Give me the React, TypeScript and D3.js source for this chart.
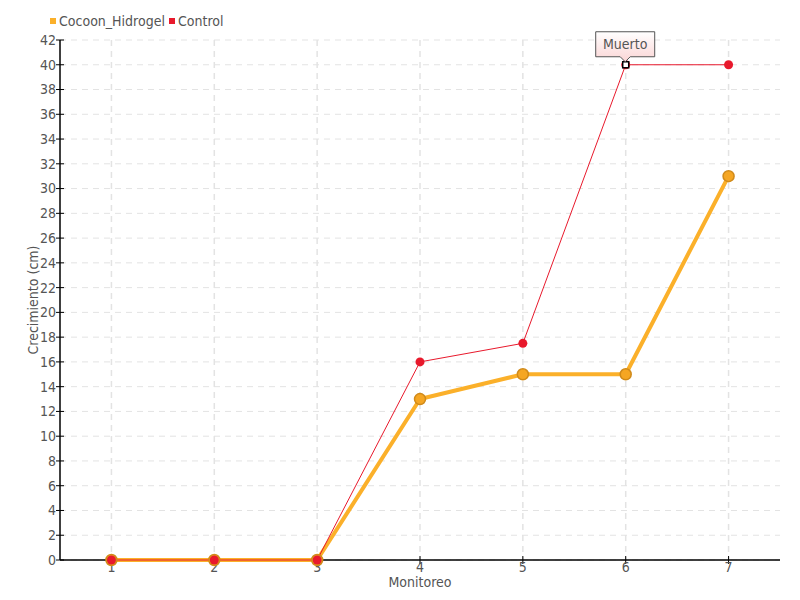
import React from "react";
import * as d3 from "d3";

const categories = ["1", "2", "3", "4", "5", "6", "7"];
const cocoonValues = [0, 0, 0, 13, 15, 15, 31];
const controlValues = [0, 0, 0, 16, 17.5, 40, 40];
const yTicks = d3.range(0, 43, 2);
const seriesNames = ["Cocoon_Hidrogel", "Control"];
const annotationLabel = "Muerto";
const annotationIndex = 5;

const W = 800, H = 600;
const left = 60, right = 780, top = 40, bottom = 560;
const FONT = "'DejaVu Sans Condensed', 'Liberation Sans Narrow', sans-serif";
const cocoonColor = "#fbb02a";
const cocoonStroke = "#d08a1a";
const controlColor = "#e8192c";

export default function App() {
  const x = d3.scaleBand<string>().domain(categories).range([left, right]);
  const cx = (c: string) => (x(c) as number) + x.bandwidth() / 2;
  const y = d3.scaleLinear().domain([0, 42]).range([bottom, top]);
  const line = d3.line<number>().x((_, i) => cx(categories[i])).y((v) => y(v));

  const ax = cx(categories[annotationIndex]);
  const ay = y(controlValues[annotationIndex]);
  const bw = 59, bh = 25;
  const bx = ax - 30, by = ay - 33;

  return (
    <svg width={W} height={H} style={{ position: "absolute", left: 0, top: 0 }} fontFamily={FONT}>
      <defs>
        <linearGradient id="tipGrad" x1="0" y1="0" x2="0" y2="1">
          <stop offset="0" stopColor="#ffffff" />
          <stop offset="1" stopColor="#fbd5d5" />
        </linearGradient>
      </defs>
      <rect width={W} height={H} fill="#fff" />
      {/* grid */}
      {yTicks.map((t) => (
        <line key={"gy" + t} x1={left} x2={right} y1={y(t)} y2={y(t)} stroke="#e3e3e3" strokeDasharray="6,5" strokeWidth={1} />
      ))}
      {categories.map((c) => (
        <line key={"gx" + c} x1={cx(c)} x2={cx(c)} y1={top} y2={bottom} stroke="#e3e3e3" strokeDasharray="6,5" strokeWidth={1.5} />
      ))}
      {/* axes */}
      <line x1={left} x2={left} y1={top} y2={bottom} stroke="#000" strokeWidth={1.5} />
      <line x1={left} x2={right} y1={bottom} y2={bottom} stroke="#000" strokeWidth={1.5} />
      {yTicks.map((t) => (
        <g key={"yt" + t}>
          <line x1={left - 4} x2={left + 4} y1={y(t)} y2={y(t)} stroke="#000" />
          <text x={left - 4} y={y(t)} dy="0.35em" textAnchor="end" fontSize={14} fill="#555">{t}</text>
        </g>
      ))}
      {categories.map((c) => (
        <g key={"xt" + c}>
          <line x1={cx(c)} x2={cx(c)} y1={bottom - 4} y2={bottom + 4} stroke="#000" />
          <text x={cx(c)} y={bottom + 12} textAnchor="middle" fontSize={14} fill="#555">{c}</text>
        </g>
      ))}
      <text x={(left + right) / 2} y={bottom + 27} textAnchor="middle" fontSize={14} fill="#555">Monitoreo</text>
      <text transform={`translate(38,${(top + bottom) / 2}) rotate(-90)`} textAnchor="middle" fontSize={14} fill="#555">Crecimiento (cm)</text>
      {/* series */}
      <path d={line(cocoonValues) || ""} fill="none" stroke={cocoonColor} strokeWidth={4} strokeLinejoin="round" />
      <path d={line(controlValues) || ""} fill="none" stroke={controlColor} strokeWidth={1} />
      {cocoonValues.map((v, i) => (
        <circle key={"cc" + i} cx={cx(categories[i])} cy={y(v)} r={5.5} fill="#f5a623" stroke={cocoonStroke} strokeWidth={1.5} />
      ))}
      {controlValues.map((v, i) => (
        <circle key={"ct" + i} cx={cx(categories[i])} cy={y(v)} r={4.5} fill={controlColor} />
      ))}
      {/* annotation */}
      <rect x={ax - 3} y={ay - 3} width={6} height={6} fill="#fff" stroke="#000" strokeWidth={1.5} />
      <path
        d={`M${bx},${by} h${bw} v${bh} h${-(bw / 2 - 5)} l-5,5 l-5,-5 h${-(bw / 2 - 5)} Z`}
        fill="url(#tipGrad)" stroke="#555" strokeWidth={1}
      />
      <text x={bx + bw / 2} y={by + bh / 2} dy="0.35em" textAnchor="middle" fontSize={14} fill="#555">{annotationLabel}</text>
      {/* legend */}
      <rect x={50} y={18} width={6} height={6} fill={cocoonColor} />
      <text x={59} y={21} dy="0.35em" fontSize={14} fill="#555">{seriesNames[0]}</text>
      <rect x={169} y={18} width={6} height={6} fill={controlColor} />
      <text x={178} y={21} dy="0.35em" fontSize={14} fill="#555">{seriesNames[1]}</text>
    </svg>
  );
}
